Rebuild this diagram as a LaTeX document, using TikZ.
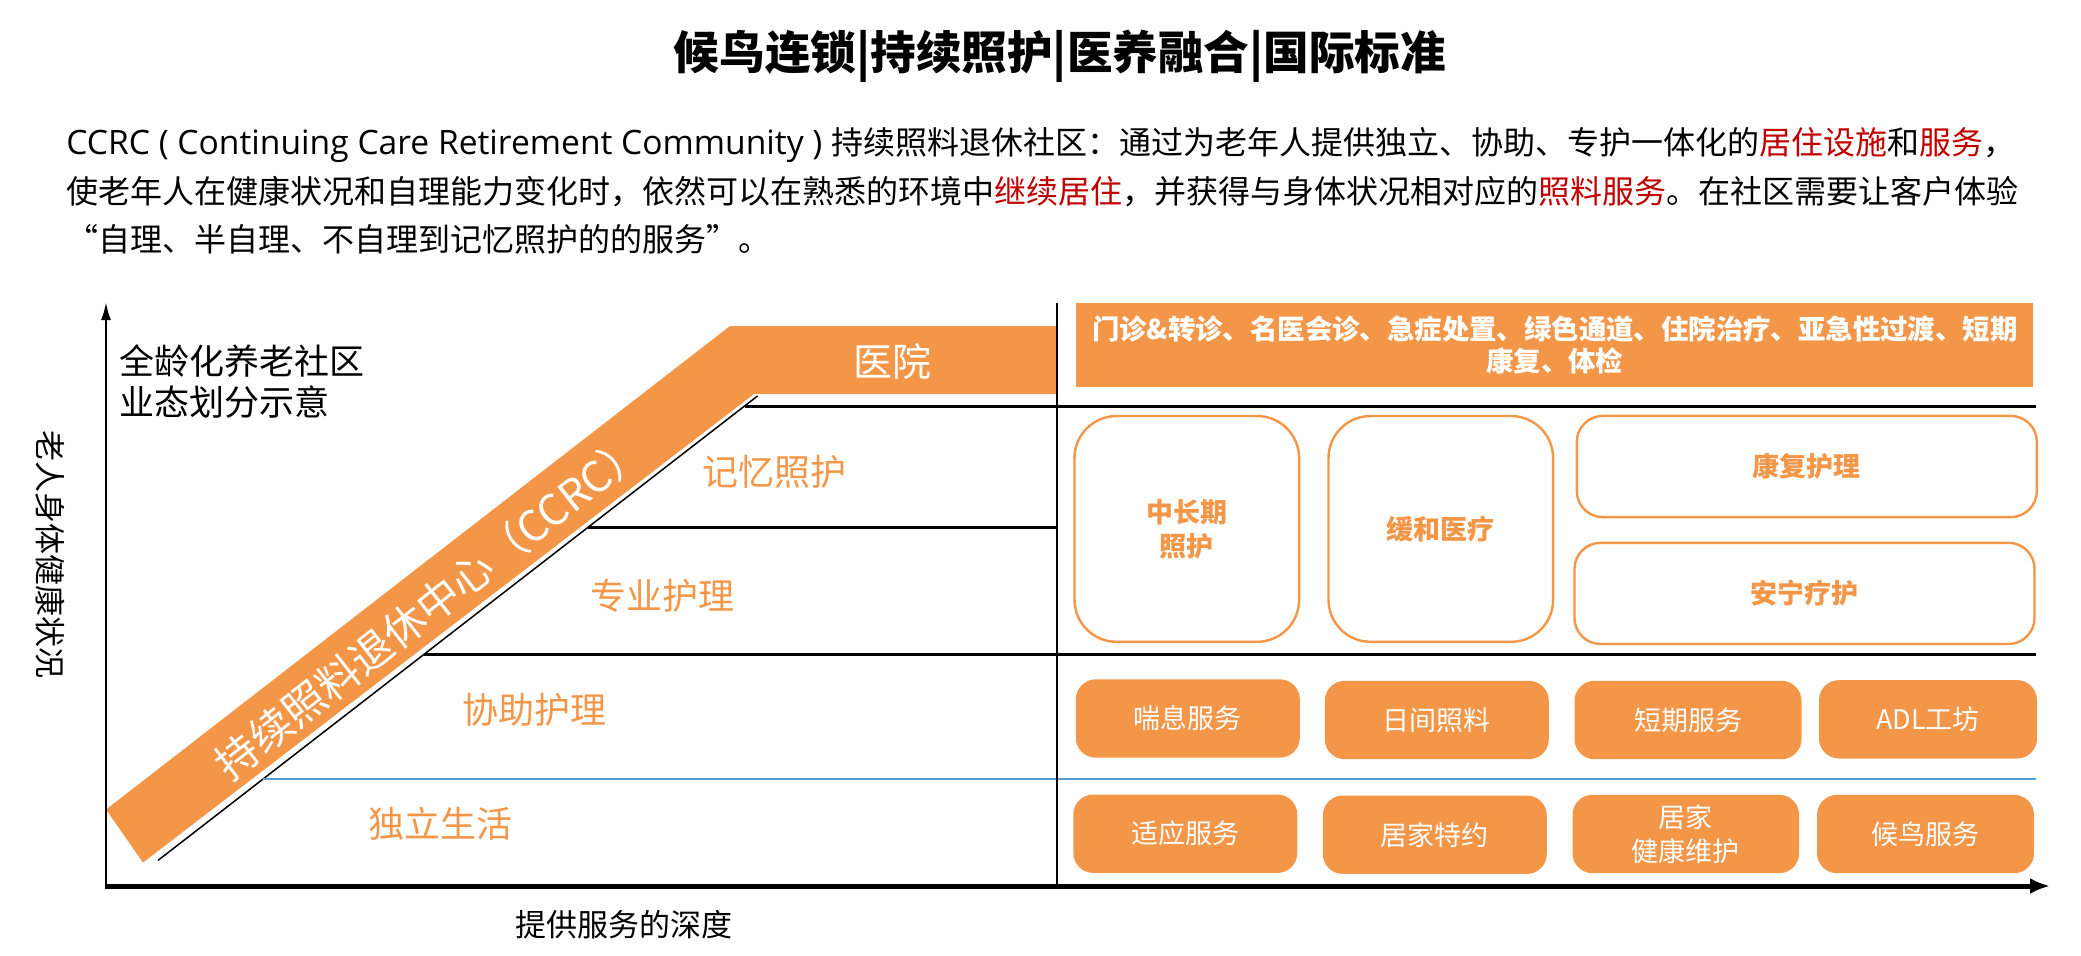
\documentclass[tikz,border=0pt]{standalone}
\usepackage{fontspec}
\setmainfont{Noto Sans CJK SC}
\newfontfamily\latinfont{Open Sans}
\usepackage{tikz}
\usetikzlibrary{positioning}
\usetikzlibrary{arrows.meta}
\usetikzlibrary{calc}

\definecolor{ccrcorange}{RGB}{244,150,72}
\definecolor{ccrcred}{RGB}{192,0,0}
\definecolor{ccrcblue}{RGB}{91,155,213}

\begin{document}
\begin{tikzpicture}[ x = 0.5pt
                   , y = -0.5pt
                   , >={Latex[width=5pt, length=9pt]}
                   , every node/.style = { inner sep = 0pt
                                         , align = center }
                   ]
  \useasboundingbox (0,0) rectangle (2081,955);

  %%
  %% Heading and text
  %%
  \tikzset{ heading/.style={font=\fontsize{22.8pt}{27pt}\selectfont\bfseries}
          , para/.style={anchor=west, font=\fontsize{16pt}{20pt}\selectfont}
          }

  \node (title) [heading] at (1060,56) {候鸟连锁|持续照护|医养融合|国际标准};
  \node (line1) [para] at (66,145) {{\latinfont\fontsize{16.8pt}{20pt}\selectfont CCRC ( Continuing Care Retirement Community ) }持续照料退休社区：通过为老年人提供独立、协助、专护一体化的\textcolor{ccrcred}{居住设施}和\textcolor{ccrcred}{服务}，};
  \node (line2) [para] at (66,192) {使老年人在健康状况和自理能力变化时，依然可以在熟悉的环境中\textcolor{ccrcred}{继续居住}，并获得与身体状况相对应的\textcolor{ccrcred}{照料服务}。在社区需要让客户体验};
  \node (line3) [para] at (66,239) {“自理、半自理、不自理到记忆照护的的服务”。};

  %%
  %% Axes and levels
  %%
  \coordinate (origin) at (106,886);
  \coordinate (ytop) at (106,302);
  \coordinate (xend) at (2050,886);

  \fill[ccrcorange] (106,809.5) -- (730,326) -- (1057,326) -- (1057,394)
                    -- (754,394) -- (143,862.5) -- cycle;
  \draw[line width=0.75pt] (158,860.4) -- (757.5,396);

  % Horizontal lines.
  \draw[line width=1.5pt] (744.6,406) -- (2036,406);
  \draw[line width=1.5pt] (587.7,527.5) -- (1057,527.5);
  \draw[line width=1.5pt] (424.4,654) -- (2036,654);
  \draw[ccrcblue, line width=0.7pt] (263.1,779) -- (2036,779);
  % Vertical line.
  \draw[line width=1pt] (1057,303) -- (1057,886);

  \draw[->, line width=1.2pt] (origin) -- (ytop);
  \draw[-{Latex[width=8pt, length=10pt]}, line width=2.5pt] ($(origin)+(-1,0)$) -- (xend);

  \tikzset{ axislabel/.style={font=\fontsize{15.5pt}{19pt}\selectfont}
          , level/.style={text=ccrcorange, font=\fontsize{18pt}{22pt}\selectfont}
          }

  \node (ylabel) [axislabel, rotate=-90] at (50,554) {老人身体健康状况};
  \node (xlabel) [axislabel] at (624,925) {提供服务的深度};
  \node (caption) [anchor=west, align=left, font=\fontsize{17.5pt}{20.5pt}\selectfont]
        at (119,381.5) {全龄化养老社区\\业态划分示意};

  \node (memory) [level] at (774.5,472) {记忆照护};
  \node (skilled) [level] at (662,596) {专业护理};
  \node (assisted) [level] at (534,710) {协助护理};
  \node (independent) [level] at (440,824) {独立生活};
  \node (hospital) [text=white, font=\fontsize{19.5pt}{23pt}\selectfont] at (892,361) {医院};
  \node (ccrc) [text=white, rotate=38, font=\fontsize{21.2pt}{25pt}\selectfont]
        at (430,606) {持续照料退休中心（CCRC）};

  %%
  %% Service boxes
  %%
  \tikzset{ topbox/.style={fill=ccrcorange, text=white, minimum width=478.3pt, minimum height=42.1pt,
                           font=\fontsize{13.7pt}{16pt}\selectfont\bfseries}
          , linebox/.style={draw=ccrcorange, line width=1.2pt, fill=white, text=ccrcorange,
                            font=\fontsize{13.5pt}{17pt}\selectfont\bfseries}
          , tallbox/.style={linebox, minimum width=112.3pt, minimum height=112.9pt, rounded corners=21pt}
          , widebox/.style={linebox, minimum width=230pt, minimum height=50.6pt, rounded corners=13pt}
          , fillbox/.style={fill=ccrcorange, text=white, rounded corners=10pt,
                            minimum width=112pt, minimum height=39.2pt,
                            font=\fontsize{13.5pt}{17pt}\selectfont}
          }

  \node (hospsvc) [topbox] at (1554.7,345)
        {门诊\&转诊、名医会诊、急症处置、绿色通道、住院治疗、亚急性过渡、短期\\康复、体检};

  \node (longterm) [tallbox] at (1186.8,528.9) {中长期\\照护};
  \node (palliative) [tallbox] at (1440.8,528.9) {缓和医疗};
  \node (rehab) [widebox] at (1806.8,466.5) {康复护理};
  \node (hospice) [widebox] at (1804.5,593.4) {安宁疗护};

  \node (respite) [fillbox] at (1187.8,718.5) {喘息服务};
  \node (daycare) [fillbox] at (1436.8,720) {日间照料};
  \node (shortterm) [fillbox, minimum width=113.5pt] at (1688,720) {短期服务};
  \node (adl) [fillbox, minimum width=109pt] at (1928,719.3) {ADL工坊};

  \node (adapt) [fillbox] at (1185.3,833.7) {适应服务};
  \node (homecare) [fillbox] at (1434.8,834.7) {居家特约};
  \node (homehealth) [fillbox, minimum width=113.3pt] at (1685.8,834) {居家\\健康维护};
  \node (migrant) [fillbox, minimum width=108.5pt] at (1925.5,834) {候鸟服务};
\end{tikzpicture}
\end{document}
